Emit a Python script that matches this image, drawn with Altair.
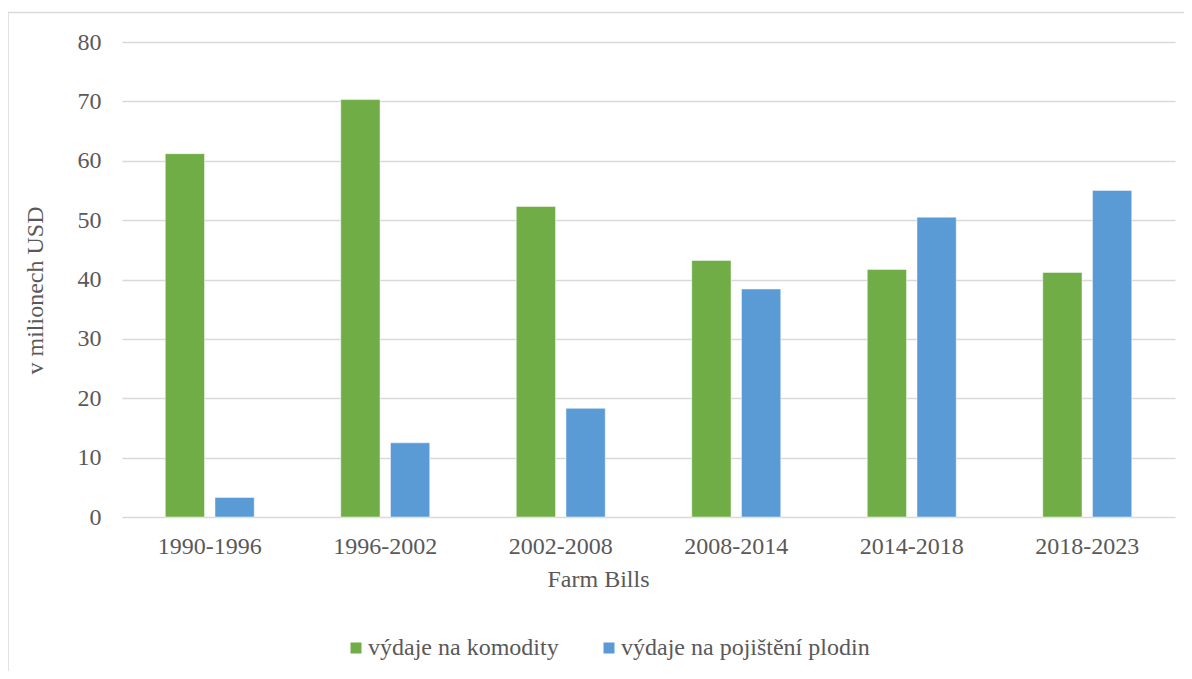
import altair as alt
import pandas as pd

periods = ["1990-1996", "1996-2002", "2002-2008", "2008-2014", "2014-2018", "2018-2023"]
komodity = [61.2, 70.3, 52.3, 43.2, 41.7, 41.2]
pojisteni = [3.3, 12.5, 18.3, 38.4, 50.5, 55.0]
series_names = ["výdaje na komodity", "výdaje na pojištění plodin"]
series_colors = ["#70AD47", "#5B9BD5"]
y_ticks = [0, 10, 20, 30, 40, 50, 60, 70, 80]

rows = []
for p, a, b in zip(periods, komodity, pojisteni):
    rows.append({"period": p, "series": series_names[0], "value": a})
    rows.append({"period": p, "series": series_names[1], "value": b})
df = pd.DataFrame(rows)

FONT = "'Liberation Serif', 'Times New Roman', Times, serif"
GRAY = "#595959"
FS = 24

W, H = 1053, 475

bars = alt.Chart(df).mark_bar(stroke="white", strokeWidth=0.8, strokeOpacity=0.6).encode(
    x=alt.X(
        "period:N",
        sort=periods,
        scale=alt.Scale(paddingInner=0.493, paddingOuter=0.2465),
        axis=alt.Axis(
            title="Farm Bills",
            labelAngle=0,
            ticks=False,
            tickSize=0,
            domain=False,
            labelFont=FONT,
            labelFontSize=FS,
            labelColor=GRAY,
            labelBaseline="alphabetic",
            labelPadding=36,
            labelLimit=400,
            titleFont=FONT,
            titleFontSize=FS,
            titleFontWeight="normal",
            titleColor=GRAY,
            titleX=476,
            titleY=69,
            titleAlign="center",
            titleBaseline="alphabetic",
        ),
    ),
    xOffset=alt.XOffset(
        "series:N",
        sort=series_names,
        scale=alt.Scale(paddingInner=0.21, paddingOuter=0),
    ),
    y=alt.Y(
        "value:Q",
        scale=alt.Scale(domain=[0, 80], nice=False),
        axis=alt.Axis(
            title="v milionech USD",
            values=y_ticks,
            ticks=False,
            tickSize=0,
            domain=False,
            grid=True,
            gridColor="#d9d9d9",
            gridWidth=1.5,
            labelFont=FONT,
            labelFontSize=FS,
            labelColor=GRAY,
            labelPadding=21,
            titleFont=FONT,
            titleFontSize=FS,
            titleFontWeight="normal",
            titleColor=GRAY,
            titleX=-87,
            titleY=248,
            titleAngle=270,
            titleAlign="center",
            titleBaseline="middle",
        ),
    ),
    color=alt.Color(
        "series:N",
        sort=series_names,
        scale=alt.Scale(domain=series_names, range=series_colors),
        legend=alt.Legend(
            title=None,
            orient="none",
            direction="horizontal",
            legendX=222,
            legendY=594,
            symbolType="square",
            symbolSize=121,
            symbolStrokeWidth=0,
            labelFont=FONT,
            labelFontSize=FS,
            labelColor=GRAY,
            labelOffset=0,
            labelLimit=500,
            columnPadding=38,
            padding=0,
        ),
    ),
)

frame = alt.Chart(pd.DataFrame({"k": [0]})).mark_rect(
    fill=None, stroke="#d9d9d9", strokeWidth=1.5
).encode(
    x=alt.value(-114),
    x2=alt.value(W + 300),
    y=alt.value(-29.5),
    y2=alt.value(H + 400),
)

chart = alt.layer(frame, bars).properties(
    width=W,
    height=H,
    autosize=alt.AutoSizeParams(type="none"),
    padding={"left": 114, "top": 34, "right": 9, "bottom": 154},
    background="white",
).configure_view(stroke=None)

chart.save("out.html", embed_options={"renderer": "svg", "actions": False})
